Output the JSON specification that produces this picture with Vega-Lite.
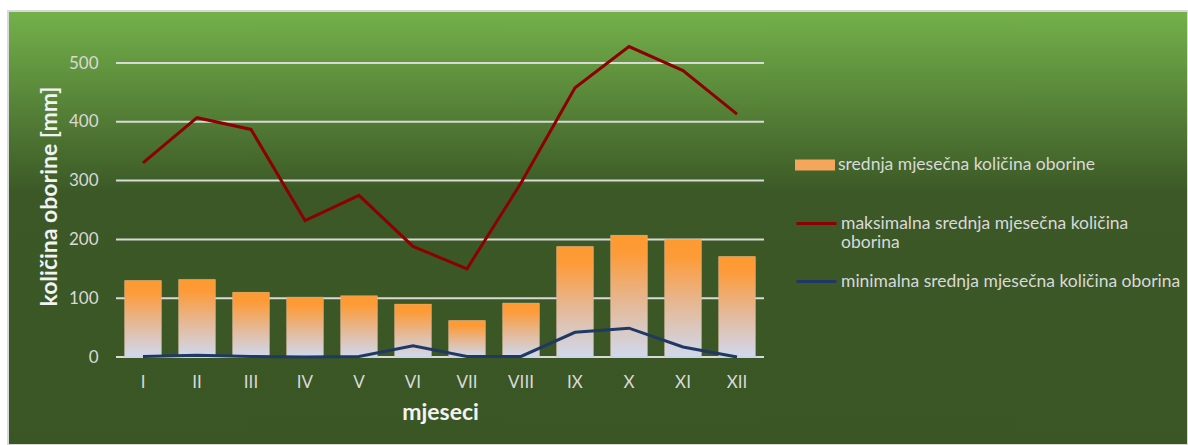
{
  "$schema": "https://vega.github.io/schema/vega-lite/v6.json",
  "width": 1180,
  "height": 434,
  "padding": {"left": 8, "top": 11, "right": 0, "bottom": 0},
  "autosize": {"type": "none"},
  "background": "white",
  "config": {
    "view": {
      "fill": {"gradient": "linear", "x1": 0, "y1": 0, "x2": 0, "y2": 1, "stops": [
        {"offset": 0, "color": "#74B14B"},
        {"offset": 0.42, "color": "#3B5826"},
        {"offset": 1, "color": "#3A5624"}
      ]},
      "stroke": "#D9D9D9",
      "strokeWidth": 2
    },
    "font": "Lato"
  },
  "datasets": {
    "mreza": [{"g": 0}, {"g": 100}, {"g": 200}, {"g": 300}, {"g": 400}, {"g": 500}]
  },
  "data": {
    "values": [
      {"mjesec": "I", "serija": "srednja mjesečna količina oborine", "v": 130},
      {"mjesec": "II", "serija": "srednja mjesečna količina oborine", "v": 132},
      {"mjesec": "III", "serija": "srednja mjesečna količina oborine", "v": 110},
      {"mjesec": "IV", "serija": "srednja mjesečna količina oborine", "v": 102},
      {"mjesec": "V", "serija": "srednja mjesečna količina oborine", "v": 104},
      {"mjesec": "VI", "serija": "srednja mjesečna količina oborine", "v": 90},
      {"mjesec": "VII", "serija": "srednja mjesečna količina oborine", "v": 62},
      {"mjesec": "VIII", "serija": "srednja mjesečna količina oborine", "v": 92},
      {"mjesec": "IX", "serija": "srednja mjesečna količina oborine", "v": 188},
      {"mjesec": "X", "serija": "srednja mjesečna količina oborine", "v": 207},
      {"mjesec": "XI", "serija": "srednja mjesečna količina oborine", "v": 200},
      {"mjesec": "XII", "serija": "srednja mjesečna količina oborine", "v": 171},
      {"mjesec": "I", "serija": "maksimalna srednja mjesečna količina oborina", "v": 330},
      {"mjesec": "II", "serija": "maksimalna srednja mjesečna količina oborina", "v": 407},
      {"mjesec": "III", "serija": "maksimalna srednja mjesečna količina oborina", "v": 387},
      {"mjesec": "IV", "serija": "maksimalna srednja mjesečna količina oborina", "v": 232},
      {"mjesec": "V", "serija": "maksimalna srednja mjesečna količina oborina", "v": 275},
      {"mjesec": "VI", "serija": "maksimalna srednja mjesečna količina oborina", "v": 188},
      {"mjesec": "VII", "serija": "maksimalna srednja mjesečna količina oborina", "v": 150},
      {"mjesec": "VIII", "serija": "maksimalna srednja mjesečna količina oborina", "v": 296},
      {"mjesec": "IX", "serija": "maksimalna srednja mjesečna količina oborina", "v": 458},
      {"mjesec": "X", "serija": "maksimalna srednja mjesečna količina oborina", "v": 528},
      {"mjesec": "XI", "serija": "maksimalna srednja mjesečna količina oborina", "v": 487},
      {"mjesec": "XII", "serija": "maksimalna srednja mjesečna količina oborina", "v": 413},
      {"mjesec": "I", "serija": "minimalna srednja mjesečna količina oborina", "v": 1},
      {"mjesec": "II", "serija": "minimalna srednja mjesečna količina oborina", "v": 3},
      {"mjesec": "III", "serija": "minimalna srednja mjesečna količina oborina", "v": 1},
      {"mjesec": "IV", "serija": "minimalna srednja mjesečna količina oborina", "v": 0},
      {"mjesec": "V", "serija": "minimalna srednja mjesečna količina oborina", "v": 1},
      {"mjesec": "VI", "serija": "minimalna srednja mjesečna količina oborina", "v": 19},
      {"mjesec": "VII", "serija": "minimalna srednja mjesečna količina oborina", "v": 1},
      {"mjesec": "VIII", "serija": "minimalna srednja mjesečna količina oborina", "v": 1},
      {"mjesec": "IX", "serija": "minimalna srednja mjesečna količina oborina", "v": 42},
      {"mjesec": "X", "serija": "minimalna srednja mjesečna količina oborina", "v": 49},
      {"mjesec": "XI", "serija": "minimalna srednja mjesečna količina oborina", "v": 17},
      {"mjesec": "XII", "serija": "minimalna srednja mjesečna količina oborina", "v": 0}
    ]
  },
  "encoding": {
    "x": {
      "field": "mjesec",
      "type": "nominal",
      "sort": null,
      "scale": {
        "domain": ["_a", "_b", "I", "II", "III", "IV", "V", "VI", "VII", "VIII", "IX", "X", "XI", "XII", "_c", "_d", "_e", "_f", "_g", "_h", "_i"],
        "paddingInner": 0,
        "paddingOuter": 0.4259,
        "align": 0
      },
      "axis": {
        "title": "mjeseci",
        "orient": "bottom",
        "values": ["I", "II", "III", "IV", "V", "VI", "VII", "VIII", "IX", "X", "XI", "XII"],
        "offset": -71,
        "labelAngle": 0,
        "labelPadding": 0,
        "ticks": false,
        "tickSize": 0,
        "domain": false,
        "grid": false,
        "labelColor": "#D9D9D9",
        "labelFont": "Lato",
        "labelFontSize": 17,
        "titleColor": "#F2F2F2",
        "titleFont": "Lato",
        "titleFontSize": 23,
        "titleFontWeight": "bold",
        "titleX": 432,
        "titleY": 27
      }
    },
    "y": {
      "field": "v",
      "type": "quantitative",
      "scale": {"domain": [-149.66, 588.44], "nice": false, "zero": false},
      "axis": {
        "title": "količina oborine [mm]",
        "values": [0, 100, 200, 300, 400, 500],
        "offset": -90,
        "labelPadding": 0,
        "ticks": false,
        "tickSize": 0,
        "domain": false,
        "grid": false,
        "labelColor": "#D9D9D9",
        "labelFont": "Lato",
        "labelFontSize": 17,
        "titleColor": "#F2F2F2",
        "titleFont": "Lato",
        "titleFontSize": 23,
        "titleFontWeight": "bold",
        "titleX": -37,
        "titleY": 185
      }
    }
  },
  "layer": [
    {
      "data": {"name": "mreza"},
      "mark": {"type": "rule", "color": "#D9D9D9", "strokeWidth": 2, "xOffset": -27, "x2Offset": 27},
      "encoding": {
        "x": {"datum": "I"},
        "x2": {"datum": "XII"},
        "y": {"field": "g", "type": "quantitative"}
      }
    },
    {
      "transform": [{"filter": "datum.serija === 'srednja mjesečna količina oborine'"}],
      "mark": {"type": "bar", "width": {"band": 0.68}},
      "encoding": {
        "y2": {"datum": 0},
        "fill": {
          "field": "serija",
          "type": "nominal",
          "scale": {"domain": ["srednja mjesečna količina oborine"], "range": ["#F5A55C"]},
          "legend": {
            "title": null,
            "orient": "none",
            "legendX": 787,
            "legendY": 134,
            "padding": 0,
            "symbolType": "M-1,-0.27H1V0.27H-1Z",
            "symbolSize": 1600,
            "symbolStrokeWidth": 0,
            "symbolOpacity": 1,
            "labelOffset": 3,
            "labelColor": "#D9D9D9",
            "labelFont": "Lato",
            "labelFontSize": 17.5,
            "labelLimit": 400
          }
        }
      }
    },
    {
      "transform": [{"filter": "datum.serija === 'srednja mjesečna količina oborine'"}],
      "mark": {
        "type": "bar",
        "width": {"band": 0.68},
        "fill": {"gradient": "linear", "x1": 0, "y1": 0, "x2": 0, "y2": 1, "stops": [
          {"offset": 0, "color": "#FF9A30"},
          {"offset": 0.15, "color": "#FD9B38"},
          {"offset": 0.55, "color": "#E5B894"},
          {"offset": 1, "color": "#CFD9EE"}
        ]},
        "stroke": "#BFBFBF",
        "strokeWidth": 0.5,
        "strokeOpacity": 0.6
      },
      "encoding": {
        "y2": {"datum": 0}
      }
    },
    {
      "transform": [{"filter": "datum.serija !== 'srednja mjesečna količina oborine'"}],
      "mark": {"type": "line", "strokeWidth": 3, "strokeJoin": "miter"},
      "encoding": {
        "color": {
          "field": "serija",
          "type": "nominal",
          "scale": {
            "domain": ["maksimalna srednja mjesečna količina oborina", "minimalna srednja mjesečna količina oborina"],
            "range": ["#8B0000", "#203864"]
          },
          "legend": {
            "title": null,
            "orient": "none",
            "legendX": 787,
            "legendY": 191,
            "padding": 0,
            "symbolType": "stroke",
            "symbolSize": 1600,
            "symbolStrokeWidth": 3,
            "labelOffset": 3,
            "labelColor": "#D9D9D9",
            "labelFont": "Lato",
            "labelFontSize": 17.5,
            "labelLimit": 400,
            "rowPadding": 8,
            "labelExpr": "datum.label === 'maksimalna srednja mjesečna količina oborina' ? ['maksimalna srednja mjesečna količina', 'oborina'] : datum.label"
          }
        }
      }
    }
  ]
}
